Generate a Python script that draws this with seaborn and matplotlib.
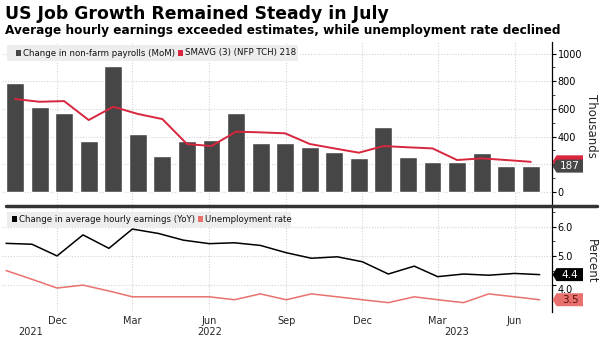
import numpy as np
import pandas as pd
import matplotlib
matplotlib.use("Agg")
import matplotlib.pyplot as plt
import seaborn as sns
from matplotlib.transforms import Affine2D, ScaledTranslation, offset_copy, blended_transform_factory
from matplotlib.patches import Polygon, Rectangle
from matplotlib.lines import Line2D
from matplotlib.ticker import MultipleLocator

# ---------------- data ----------------
months = ["2021-10-01", "2021-11-01", "2021-12-01", "2022-01-01", "2022-02-01", "2022-03-01",
          "2022-04-01", "2022-05-01", "2022-06-01", "2022-07-01", "2022-08-01", "2022-09-01",
          "2022-10-01", "2022-11-01", "2022-12-01", "2023-01-01", "2023-02-01", "2023-03-01",
          "2023-04-01", "2023-05-01", "2023-06-01", "2023-07-01"]
nfp = [785, 616, 573, 368, 910, 417, 260, 368, 375, 573, 354, 354,
       327, 291, 243, 472, 251, 219, 219, 281, 190, 187]
nfp_sma3 = [672, 652, 657, 520, 616, 564, 527, 347, 332, 436, 431, 424,
            347, 315, 284, 332, 323, 315, 231, 243, 231, 218]
ahe_yoy = [5.43, 5.40, 5.00, 5.72, 5.26, 5.92, 5.77, 5.54, 5.42, 5.45, 5.36, 5.11,
           4.92, 4.97, 4.80, 4.38, 4.65, 4.29, 4.38, 4.34, 4.40, 4.36]
unemp = [4.5, 4.2, 3.9, 4.0, 3.8, 3.6, 3.6, 3.6, 3.6, 3.5, 3.7, 3.5,
         3.7, 3.6, 3.5, 3.4, 3.6, 3.5, 3.4, 3.7, 3.6, 3.5]
tick_dates = ["2021-12-01", "2022-03-01", "2022-06-01", "2022-09-01",
              "2022-12-01", "2023-03-01", "2023-06-01"]
tick_labels = ["Dec", "Mar", "Jun", "Sep", "Dec", "Mar", "Jun"]
year_labels = ["2021", "2022", "2023"]
year_dates = ["2021-10-31", "2022-06-01", "2023-03-24"]
top_yticks = [0, 200, 400, 600, 800, 1000]
top_yticklabels = ["0", "", "400", "600", "800", "1000"]
bot_yticks = [4.0, 5.0, 6.0]
bot_yticklabels = ["4.0", "5.0", "6.0"]

title = "US Job Growth Remained Steady in July"
subtitle = "Average hourly earnings exceeded estimates, while unemployment rate declined"
leg_top = ["Change in non-farm payrolls (MoM)", "SMAVG (3) (NFP TCH) 218"]
leg_bot = ["Change in average hourly earnings (YoY)", "Unemployment rate"]

# ---------------- style ----------------
BAR = "#464646"
RED = "#d7263d"
PINK = "#e8716e"
GRID = "#d4d4d4"
LEGBG = "#ededed"

sns.set_theme(style="white")
plt.rcParams["font.family"] = ["DejaVu Sans"]

W, H = 600, 340
fig = plt.figure(figsize=(6, 3.4), dpi=100)
fig.patch.set_facecolor("white")


def rect(l, t, r, b):
    return [l / W, 1 - b / H, (r - l) / W, (b - t) / H]


ax1 = fig.add_axes(rect(2, 42, 552, 205))
ax2 = fig.add_axes(rect(2, 207, 552, 312))

start = pd.Timestamp(months[0])


def date_pos(d):
    return (pd.Timestamp(d) - start).days / 29.36 - 0.366


n = len(months)
df1 = pd.DataFrame({"pos": np.arange(n), "nfp": nfp, "sma": nfp_sma3})
df2 = pd.DataFrame({"pos": [date_pos(m) for m in months], "ahe": ahe_yoy, "ur": unemp})

# ---------------- top panel ----------------
sns.barplot(data=df1, x="pos", y="nfp", native_scale=True, color=BAR, saturation=1,
            width=0.73, errorbar=None, ax=ax1, zorder=2)
sns.lineplot(data=df1, x="pos", y="sma", color=RED, lw=1.4, ax=ax1, zorder=3)

# ---------------- bottom panel ----------------
sns.lineplot(data=df2, x="pos", y="ahe", color="black", lw=1.1, ax=ax2, zorder=3)
sns.lineplot(data=df2, x="pos", y="ur", color=PINK, lw=1.1, ax=ax2, zorder=3)

tick_pos = [date_pos(d) for d in tick_dates]
xl = (-0.53, 21.865)
for ax in (ax1, ax2):
    ax.set_xlim(*xl)
    ax.set_xticks(tick_pos)
    ax.set_xlabel("")
    ax.set_ylabel("")
    ax.set_facecolor("white")
    for s in ("top", "left", "bottom"):
        ax.spines[s].set_visible(False)
    ax.spines["right"].set_color("black")
    ax.spines["right"].set_linewidth(0.9)
    ax.yaxis.tick_right()
    ax.grid(True, which="major", color=GRID, ls=(0, (1, 1.5)), lw=0.8, zorder=0)
    ax.set_axisbelow(True)
    ax.tick_params(axis="x", length=0)
    ax.tick_params(axis="y", which="major", direction="out", length=3, width=0.8,
                   labelsize=7, pad=1, colors="black", right=True, left=False)
    ax.tick_params(axis="y", which="minor", direction="out", length=2, width=0.6,
                   right=True, left=False)

ax1.tick_params(axis="x", labelbottom=False)
ax1.set_ylim(-94, 1084)
ax1.set_yticks(top_yticks)
ax1.set_yticklabels(top_yticklabels)
ax1.yaxis.set_minor_locator(MultipleLocator(100))

ax2.set_ylim(3.08, 6.675)
ax2.set_yticks(bot_yticks)
ax2.set_yticklabels(bot_yticklabels)
ax2.yaxis.set_minor_locator(MultipleLocator(0.5))
ax2.set_xticklabels(tick_labels, fontsize=7)
ax2.tick_params(axis="x", pad=3)
for lab in ax2.get_yticklabels():
    if lab.get_text() == "4.0":
        lab.set_va("top")

trb = blended_transform_factory(ax2.transData, ax2.transAxes)
for lab, d in zip(year_labels, year_dates):
    ax2.text(date_pos(d), -0.195, lab, transform=trb, ha="center", va="center", fontsize=7)

ax1.text(1.071, 0.485, "Thousands", transform=ax1.transAxes, rotation=270,
         ha="center", va="center", fontsize=8.5)
ax2.text(1.071, 0.481, "Percent", transform=ax2.transAxes, rotation=270,
         ha="center", va="center", fontsize=8.5)


# ---------------- value tags ----------------
def tag(ax, v, txt, fc, tc, z):
    base = ax.get_yaxis_transform()
    tr = Affine2D() + ScaledTranslation(1.0, v, base)
    verts = [(0.5, 0), (4.5, -6.5), (31, -6.5), (31, 6.5), (4.5, 6.5)]
    p = Polygon(verts, closed=True, transform=tr, facecolor=fc, edgecolor="none",
                clip_on=False, zorder=z)
    ax.add_artist(p)
    if txt:
        ax.text(1.0, v, txt, transform=offset_copy(base, fig=fig, x=18, y=0, units="dots"),
                ha="center", va="center", fontsize=7.5, color=tc, clip_on=False, zorder=z + 0.5)


tag(ax1, nfp_sma3[-1], "", RED, "white", 10)  # hidden behind the 187 tag
tag(ax1, nfp[-1], str(nfp[-1]), BAR, "white", 12)
tag(ax2, ahe_yoy[-1], f"{ahe_yoy[-1]:.1f}", "black", "white", 10)
tag(ax2, unemp[-1], f"{unemp[-1]:.1f}", PINK, "#5a1010", 12)


# ---------------- legends ----------------
def legend_box(ax, top_px, bot_px, ax_top, ax_h, right_px, items):
    y0 = 1 - (bot_px - ax_top) / ax_h
    h = (bot_px - top_px) / ax_h
    ax.add_patch(Rectangle(((7 - 2) / 550, y0), (right_px - 7) / 550, h,
                           transform=ax.transAxes, facecolor=LEGBG, edgecolor="none",
                           zorder=5, clip_on=False))
    yc = y0 + h / 2
    for sq_px, txt, col in items:
        ax.add_patch(Rectangle(((sq_px - 2) / 550, yc - 3 / ax_h), 5 / 550, 6 / ax_h,
                               transform=ax.transAxes, facecolor=col, edgecolor="none",
                               zorder=6, clip_on=False))
        ax.text((sq_px + 7 - 2) / 550, yc, txt, transform=ax.transAxes, color="#111111",
                fontsize=6.2, ha="left", va="center", zorder=6)


legend_box(ax1, 45, 61, 42, 163, 298,
           [(16, leg_top[0], BAR), (178, leg_top[1], RED)])
legend_box(ax2, 212, 227, 207, 105, 291,
           [(12, leg_bot[0], "black"), (198, leg_bot[1], PINK)])

# separator
fig.add_artist(Line2D([6 / W, 597 / W], [1 - 206 / H, 1 - 206 / H], color="#333333", lw=2.5))

# titles
fig.text(5 / W, 1 - 5 / H, title, ha="left", va="top", fontsize=12.4, weight="bold", color="black")
fig.text(5 / W, 1 - 24 / H, subtitle, ha="left", va="top", fontsize=8.7, weight="bold", color="black")

fig.savefig("out.png", dpi=100, facecolor="white")
